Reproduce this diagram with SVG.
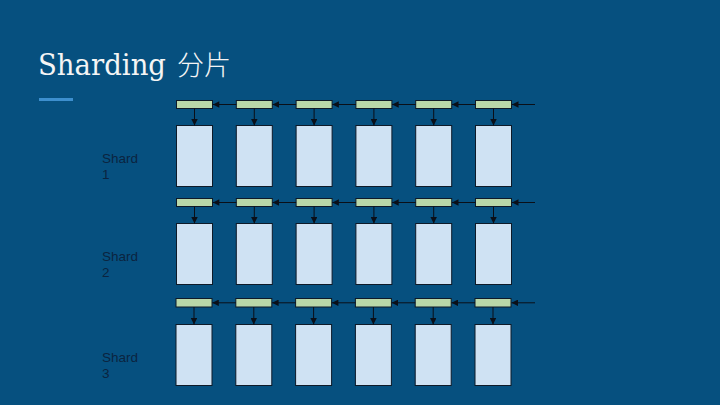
<svg xmlns="http://www.w3.org/2000/svg" width="720" height="405" viewBox="0 0 720 405">
<defs>
<style>
.bg{fill:#06507f}
.title{font-family:"DejaVu Serif","Liberation Serif",serif;font-size:29px;fill:#f5f5f5}
.cjk{font-family:"Noto Sans CJK SC",sans-serif;font-size:27px;fill:#f5f5f5;font-weight:300}
.lbl{font-family:"Liberation Sans",Arial,sans-serif;font-size:13.5px;fill:#0b2440}
.bar{fill:#b9d8a9;stroke:#0e1a28;stroke-width:1}
.box{fill:#cfe2f3;stroke:#0e1a28;stroke-width:1}
.ln{stroke:#0a0f18;stroke-width:1;fill:none;marker-end:url(#ah)}
</style>
<marker id="ah" viewBox="0 0 10 10" refX="10" refY="5" markerWidth="7" markerHeight="6.5" markerUnits="userSpaceOnUse" orient="auto">
<path d="M0,0 L10,5 L0,10 z" fill="#0a0f18"/>
</marker>
</defs>
<rect class="bg" x="0" y="0" width="720" height="405"/>
<g id="title">
<text class="title" x="38" y="75" textLength="128" lengthAdjust="spacingAndGlyphs">Sharding</text>
<text class="cjk" x="177" y="75">分片</text>
<rect x="39" y="98" width="34" height="3" fill="#3d8fce"/>
</g>
<g id="labels">
<text class="lbl" x="102" y="163">Shard<tspan x="102" dy="15.5">1</tspan></text>
<text class="lbl" x="102" y="261">Shard<tspan x="102" dy="15.5">2</tspan></text>
<text class="lbl" x="102" y="362">Shard<tspan x="102" dy="15.5">3</tspan></text>
</g>
<g id="shard1">
<rect class="bar" x="176.5" y="100.5" width="36" height="8"/>
<rect class="bar" x="236.3" y="100.5" width="36" height="8"/>
<rect class="bar" x="296.1" y="100.5" width="36" height="8"/>
<rect class="bar" x="355.9" y="100.5" width="36" height="8"/>
<rect class="bar" x="415.7" y="100.5" width="36" height="8"/>
<rect class="bar" x="475.5" y="100.5" width="36" height="8"/>
<rect class="box" x="176.5" y="125.5" width="36" height="61"/>
<rect class="box" x="236.3" y="125.5" width="36" height="61"/>
<rect class="box" x="296.1" y="125.5" width="36" height="61"/>
<rect class="box" x="355.9" y="125.5" width="36" height="61"/>
<rect class="box" x="415.7" y="125.5" width="36" height="61"/>
<rect class="box" x="475.5" y="125.5" width="36" height="61"/>
</g>
<g id="shard2">
<rect class="bar" x="176.5" y="198.5" width="36" height="8"/>
<rect class="bar" x="236.3" y="198.5" width="36" height="8"/>
<rect class="bar" x="296.1" y="198.5" width="36" height="8"/>
<rect class="bar" x="355.9" y="198.5" width="36" height="8"/>
<rect class="bar" x="415.7" y="198.5" width="36" height="8"/>
<rect class="bar" x="475.5" y="198.5" width="36" height="8"/>
<rect class="box" x="176.5" y="223.5" width="36" height="61"/>
<rect class="box" x="236.3" y="223.5" width="36" height="61"/>
<rect class="box" x="296.1" y="223.5" width="36" height="61"/>
<rect class="box" x="355.9" y="223.5" width="36" height="61"/>
<rect class="box" x="415.7" y="223.5" width="36" height="61"/>
<rect class="box" x="475.5" y="223.5" width="36" height="61"/>
</g>
<g id="shard3">
<rect class="bar" x="176" y="298.5" width="36" height="8.5"/>
<rect class="bar" x="235.8" y="298.5" width="36" height="8.5"/>
<rect class="bar" x="295.6" y="298.5" width="36" height="8.5"/>
<rect class="bar" x="355.4" y="298.5" width="36" height="8.5"/>
<rect class="bar" x="415.2" y="298.5" width="36" height="8.5"/>
<rect class="bar" x="475" y="298.5" width="36" height="8.5"/>
<rect class="box" x="176" y="324.5" width="36" height="61"/>
<rect class="box" x="235.8" y="324.5" width="36" height="61"/>
<rect class="box" x="295.6" y="324.5" width="36" height="61"/>
<rect class="box" x="355.4" y="324.5" width="36" height="61"/>
<rect class="box" x="415.2" y="324.5" width="36" height="61"/>
<rect class="box" x="475" y="324.5" width="36" height="61"/>
</g>
<g id="connectors">
<line class="ln" x1="535" y1="104.5" x2="512" y2="104.5"/>
<line class="ln" x1="475.5" y1="104.5" x2="452" y2="104.5"/>
<line class="ln" x1="415.7" y1="104.5" x2="392.2" y2="104.5"/>
<line class="ln" x1="355.9" y1="104.5" x2="332.4" y2="104.5"/>
<line class="ln" x1="296.1" y1="104.5" x2="272.6" y2="104.5"/>
<line class="ln" x1="236.3" y1="104.5" x2="212.8" y2="104.5"/>
<line class="ln" x1="194.5" y1="108.5" x2="194.5" y2="125.5"/>
<line class="ln" x1="254.3" y1="108.5" x2="254.3" y2="125.5"/>
<line class="ln" x1="314.1" y1="108.5" x2="314.1" y2="125.5"/>
<line class="ln" x1="373.9" y1="108.5" x2="373.9" y2="125.5"/>
<line class="ln" x1="433.7" y1="108.5" x2="433.7" y2="125.5"/>
<line class="ln" x1="493.5" y1="108.5" x2="493.5" y2="125.5"/>
<line class="ln" x1="535" y1="202.5" x2="512" y2="202.5"/>
<line class="ln" x1="475.5" y1="202.5" x2="452" y2="202.5"/>
<line class="ln" x1="415.7" y1="202.5" x2="392.2" y2="202.5"/>
<line class="ln" x1="355.9" y1="202.5" x2="332.4" y2="202.5"/>
<line class="ln" x1="296.1" y1="202.5" x2="272.6" y2="202.5"/>
<line class="ln" x1="236.3" y1="202.5" x2="212.8" y2="202.5"/>
<line class="ln" x1="194.5" y1="206.5" x2="194.5" y2="223.5"/>
<line class="ln" x1="254.3" y1="206.5" x2="254.3" y2="223.5"/>
<line class="ln" x1="314.1" y1="206.5" x2="314.1" y2="223.5"/>
<line class="ln" x1="373.9" y1="206.5" x2="373.9" y2="223.5"/>
<line class="ln" x1="433.7" y1="206.5" x2="433.7" y2="223.5"/>
<line class="ln" x1="493.5" y1="206.5" x2="493.5" y2="223.5"/>
<line class="ln" x1="535" y1="302.8" x2="511.5" y2="302.8"/>
<line class="ln" x1="475" y1="302.8" x2="451.5" y2="302.8"/>
<line class="ln" x1="415.2" y1="302.8" x2="391.7" y2="302.8"/>
<line class="ln" x1="355.4" y1="302.8" x2="331.9" y2="302.8"/>
<line class="ln" x1="295.6" y1="302.8" x2="272.1" y2="302.8"/>
<line class="ln" x1="235.8" y1="302.8" x2="212.3" y2="302.8"/>
<line class="ln" x1="194" y1="307" x2="194" y2="324.5"/>
<line class="ln" x1="253.8" y1="307" x2="253.8" y2="324.5"/>
<line class="ln" x1="313.6" y1="307" x2="313.6" y2="324.5"/>
<line class="ln" x1="373.4" y1="307" x2="373.4" y2="324.5"/>
<line class="ln" x1="433.2" y1="307" x2="433.2" y2="324.5"/>
<line class="ln" x1="493" y1="307" x2="493" y2="324.5"/>
</g>
</svg>
